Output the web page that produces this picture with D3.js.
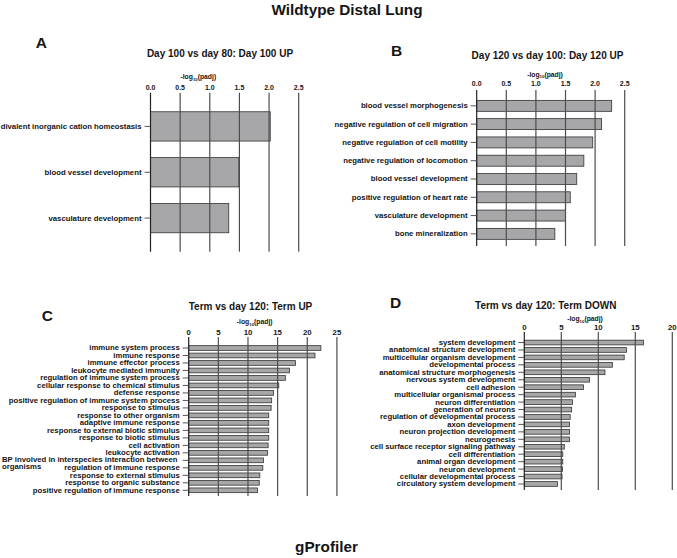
<!DOCTYPE html>
<html><head><meta charset="utf-8">
<script src="https://cdn.jsdelivr.net/npm/d3@7"></script>
<style>
body{margin:0;background:#fff}
svg{display:block}
text{font-family:"Liberation Sans",Arial,Helvetica,sans-serif;font-weight:bold;fill:#151515}
</style>
</head><body>
<svg id="chart" width="677" height="558"></svg>
<script>
// ---- data ----
const mainTitle = "Wildtype Distal Lung";
const footer = "gProfiler";

const aTitle = "Day 100 vs day 80: Day 100 UP";
const aTerms = ["divalent inorganic cation homeostasis","blood vessel development","vasculature development"];
const aValues = [2.02,1.49,1.32];
const aTicks = [0,0.5,1,1.5,2,2.5];
const aTickLabels = ["0.0","0.5","1.0","1.5","2.0","2.5"];

const bTitle = "Day 120 vs day 100: Day 120 UP";
const bTerms = ["blood vessel morphogenesis","negative regulation of cell migration","negative regulation of cell motility","negative regulation of locomotion","blood vessel development","positive regulation of heart rate","vasculature development","bone mineralization"];
const bValues = [2.28,2.11,1.96,1.81,1.69,1.58,1.50,1.32];
const bTicks = [0,0.5,1,1.5,2,2.5];
const bTickLabels = ["0.0","0.5","1.0","1.5","2.0","2.5"];

const cTitle = "Term vs day 120: Term UP";
const cTerms = ["immune system process","immune response","immune effector process","leukocyte mediated immunity","regulation of immune system process","cellular response to chemical stimulus","defense response","positive regulation of immune system process","response to stimulus","response to other organism","adaptive immune response","response to external biotic stimulus","response to biotic stimulus","cell activation","leukocyte activation","BP involved in interspecies interaction between organisms","regulation of immune response","response to external stimulus","response to organic substance","positive regulation of immune response"];
const cValues = [22.3,21.3,18.0,17.0,16.3,15.2,14.3,14.0,13.9,13.5,13.5,13.5,13.5,13.4,13.3,12.6,12.5,12.0,11.9,11.6];
const cTicks = [0,5,10,15,20,25];
const cTickLabels = ["0","5","10","15","20","25"];

const dTitle = "Term vs day 120: Term DOWN";
const dTerms = ["system development","anatomical structure development","multicellular organism development","developmental process","anatomical structure morphogenesis","nervous system development","cell adhesion","multicellular organismal process","neuron differentiation","generation of neurons","regulation of developmental process","axon development","neuron projection development","neurogenesis","cell surface receptor signaling pathway","cell differentiation","animal organ development","neuron development","cellular developmental process","circulatory system development"];
const dValues = [16.1,13.8,13.5,11.9,10.9,8.8,8.0,6.9,6.5,6.4,6.2,6.1,6.1,6.1,5.4,5.2,5.2,5.15,5.1,4.5];
const dTicks = [0,5,10,15,20];
const dTickLabels = ["0","5","10","15","20"];

// ---- drawing ----
const svg = d3.select("#chart");

svg.append("text").attr("x",347).attr("y",15).attr("text-anchor","middle")
  .style("font-size","15.3px").text(mainTitle);
svg.append("text").attr("x",326.5).attr("y",552).attr("text-anchor","middle")
  .style("font-size","15.3px").text(footer);

function drawPanel(p){
  const x = d3.scaleLinear().domain([0, p.max]).range(p.xr);
  const y = d3.scaleBand().domain(p.terms).range(p.yr)
    .paddingInner(p.pad).paddingOuter(p.pad/2);
  const g = svg.append("g");

  g.append("text").attr("x",p.letter[0]).attr("y",p.letter[1])
    .style("font-size","15.5px").text(p.name);
  g.append("text").attr("x",p.sub[0]).attr("y",p.sub[1]).attr("text-anchor","middle")
    .style("font-size","10px").text(p.title);
  const at = g.append("text").attr("x",p.axt[0]).attr("y",p.axt[1]).attr("text-anchor","middle")
    .style("font-size","6.8px");
  at.append("tspan").text("-log");
  at.append("tspan").attr("dy",1.6).style("font-size","4.3px").text("10");
  at.append("tspan").attr("dy",-1.6).text("(padj)");

  g.selectAll(".tl").data(p.ticks).join("text")
    .attr("x",d=>x(d)).attr("y",p.tickY).attr("text-anchor","middle")
    .style("font-size",p.tickFs+"px").text((d,i)=>p.tickLabels[i]);

  g.selectAll(".bar").data(p.values).join("rect")
    .attr("x",x(0)).attr("y",(d,i)=>y(p.terms[i]))
    .attr("width",d=>x(d)-x(0)).attr("height",y.bandwidth())
    .attr("fill","#a7a7aa").attr("stroke","#333").attr("stroke-width",0.8);

  g.selectAll(".gl").data(p.ticks).join("line")
    .attr("x1",d=>x(d)).attr("x2",d=>x(d)).attr("y1",p.grid[0]).attr("y2",p.grid[1])
    .attr("stroke",(d,i)=>i===0?"#222":"#4d4d4d").attr("stroke-width",1.2);

  const ax = g.append("g").attr("transform",`translate(${x(0)},0)`)
    .call(d3.axisLeft(y).tickSize(6).tickPadding(3));
  ax.select(".domain").remove();
  ax.selectAll(".tick line").attr("stroke","#444").attr("stroke-width",0.9);
  ax.selectAll(".tick text").attr("fill","#151515")
    .style("font-family",'"Liberation Sans",Arial,sans-serif')
    .style("font-weight","bold").style("font-size","7.75px");

  const maxW = x(0) - 9;
  ax.selectAll(".tick text").each(function(){
    const t = d3.select(this);
    if (this.getComputedTextLength() <= maxW) return;
    const words = t.text().split(" ");
    t.text(null);
    const lines = []; let cur = [];
    const tmp = t.append("tspan");
    words.forEach(w=>{
      tmp.text([...cur,w].join(" "));
      if (tmp.node().getComputedTextLength() > maxW && cur.length){ lines.push(cur.join(" ")); cur=[w]; }
      else cur.push(w);
    });
    lines.push(cur.join(" "));
    tmp.remove();
    t.attr("text-anchor","start").attr("x", -(x(0)-2)).attr("dy",null).attr("y",0);
    lines.forEach((l,i)=>{
      t.append("tspan").attr("x",-(x(0)-2)).attr("y", 2 + i*7).text(l);
    });
  });
}

drawPanel({name:"A",title:aTitle,terms:aTerms,values:aValues,ticks:aTicks,tickLabels:aTickLabels,
  max:2.5,xr:[150.5,298.7],yr:[103.5,241],pad:0.36,grid:[92.7,251.7],tickY:89.5,tickFs:7,
  axt:[198.3,79],sub:[220,56.5],letter:[35.7,48.3]});
drawPanel({name:"B",title:bTitle,terms:bTerms,values:bValues,ticks:bTicks,tickLabels:bTickLabels,
  max:2.5,xr:[476.7,624.7],yr:[96.7,243],pad:0.4,grid:[90,246],tickY:86,tickFs:7,
  axt:[545,76.5],sub:[547.5,59],letter:[391,56]});
drawPanel({name:"C",title:cTitle,terms:cTerms,values:cValues,ticks:cTicks,tickLabels:cTickLabels,
  max:25,xr:[188.7,336.9],yr:[344.25,494.05],pad:0.37,grid:[337,496],tickY:334.7,tickFs:7.8,
  axt:[254.7,324],sub:[250.5,310],letter:[41.7,320.5]});
drawPanel({name:"D",title:dTitle,terms:dTerms,values:dValues,ticks:dTicks,tickLabels:dTickLabels,
  max:20,xr:[524.3,672.3],yr:[338.8,487.7],pad:0.37,grid:[332,490],tickY:330,tickFs:7.8,
  axt:[585,321],sub:[545.7,309.3],letter:[390,308.3]});
</script>
</body></html>
